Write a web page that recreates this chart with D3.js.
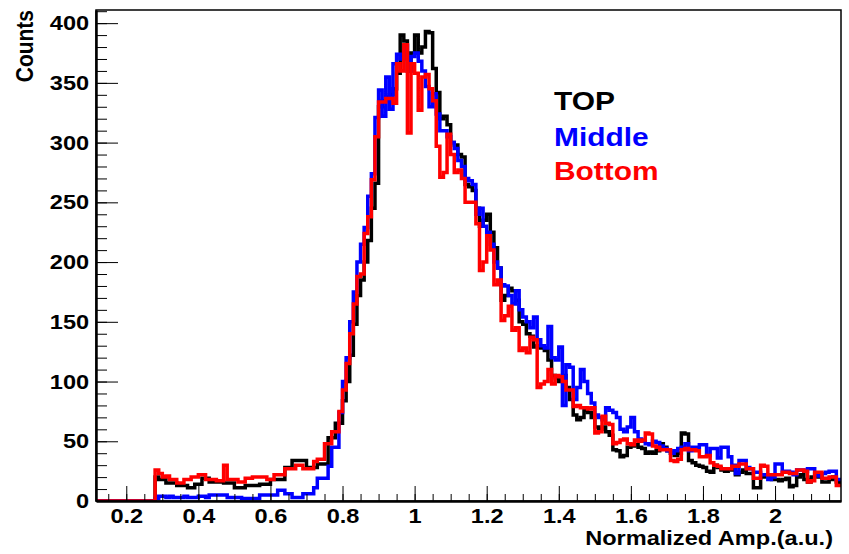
<!DOCTYPE html>
<html>
<head>
<meta charset="utf-8">
<script src="https://cdn.jsdelivr.net/npm/d3@7"></script>
<style>
  body { margin: 0; background: #fff; }
  text { font-family: "Liberation Sans", Arial, Helvetica, sans-serif; font-weight: bold; }
</style>
</head>
<body>
<div id="chart"></div>
<script>
// histogram bins: first bin starts at 0.10, width 0.01
var binStart = 0.10;
var binWidth = 0.01;

var topCounts = [
  0,0,0,0,0,0,0,0,0,0,
  0,0,0,0,0,0,0,0,20,18,
  18,15,15,15,13,13,13,11,11,14,
  14,19,19,16,16,16,16,15,15,15,
  11,11,11,13,13,13,13,14,14,14,
  18,18,18,18,28,28,34,34,34,34,
  28,28,28,31,31,31,53,53,65,65,
  84,100,122,148,172,185,200,218,245,266,
  330,335,338,340,345,358,390,385,360,375,
  390,375,380,393,392,362,342,320,322,315,
  300,298,290,288,265,263,260,245,230,235,
  240,225,212,195,168,172,178,176,168,150,
  148,140,138,129,130,128,126,118,105,103,
  100,105,95,85,72,68,70,76,74,70,
  62,60,62,58,55,43,42,37,38,45,
  46,47,45,44,40,41,40,42,48,45,
  42,40,38,40,57,56,34,32,30,29,
  28,25,24,30,28,26,25,27,26,22,
  24,26,23,23,11,11,20,22,20,18,
  18,17,18,19,12,13,20,22,18,16,
  20,23,20,16,16,18,20,16,14,14
];

var middleCounts = [
  0,0,0,0,0,0,0,0,0,0,
  0,0,0,0,0,0,0,0,2,4,
  4,3,4,3,3,3,4,3,3,3,
  4,4,3,5,5,5,5,5,3,3,
  3,3,2,2,2,2,2,5,5,5,
  5,5,9,9,6,6,3,3,3,6,
  6,6,11,19,19,19,29,45,45,74,
  100,120,150,175,200,215,229,255,274,321,
  344,322,355,328,366,374,370,381,360,372,
  375,368,360,347,330,341,324,310,310,305,
  300,295,285,280,270,268,265,240,245,230,
  225,215,200,195,181,180,172,165,176,160,
  154,150,145,154,135,130,128,146,120,118,
  129,80,114,112,85,95,110,100,90,82,
  72,70,68,78,76,74,70,60,58,62,
  70,58,52,50,48,47,50,49,46,44,
  42,40,42,44,45,48,42,45,45,47,
  47,38,44,44,36,45,45,37,30,23,
  34,34,28,27,24,24,22,22,18,20,
  31,31,25,25,24,22,26,26,25,27,
  27,22,21,23,24,25,25,18,18,18
];

var bottomCounts = [
  0,0,0,0,0,0,0,0,0,0,
  0,0,0,0,0,0,0,0,26,23,
  20,21,18,18,15,15,18,18,20,20,
  22,22,18,18,18,17,17,30,18,18,
  18,16,16,19,19,20,20,20,20,18,
  18,22,22,22,27,27,27,30,30,27,
  27,27,33,35,35,48,48,58,58,75,
  93,115,140,165,188,190,224,238,269,305,
  334,334,337,337,333,366,360,382,308,366,
  358,327,355,357,345,335,297,271,275,307,
  290,275,277,270,250,250,250,232,193,200,
  222,210,181,185,151,155,163,143,145,126,
  128,124,137,135,95,98,100,110,98,105,
  104,100,93,93,79,80,78,78,77,78,
  57,58,71,65,64,48,49,51,52,48,
  47,51,50,51,57,56,46,45,43,43,
  43,34,33,35,43,44,43,43,42,37,
  37,38,32,30,29,27,27,27,29,29,
  31,31,27,27,19,19,30,29,22,22,
  22,22,24,24,23,23,26,26,25,16,
  17,24,24,19,19,20,20,13,13,13
];

var seriesNames = ["TOP", "Middle", "Bottom"];
var seriesColors = ["#000000", "#0000ff", "#ff0000"];

var xTicks = [0.2, 0.4, 0.6, 0.8, 1.0, 1.2, 1.4, 1.6, 1.8, 2.0];
var xMinorTicks = d3.range(3, 44).map(function(i) { return i * 0.05; });
var yTicks = [0, 50, 100, 150, 200, 250, 300, 350, 400];
var yMinorTicks = d3.range(0, 42).map(function(i) { return i * 10; });

var svgWidth = 849;
var svgHeight = 554;
var margin = { top: 10, right: 8, bottom: 53, left: 96 };
var width = svgWidth - margin.left - margin.right;
var height = svgHeight - margin.top - margin.bottom;
var stretch = 1.15; // the picture text is a bit wide

var svg = d3.select("#chart")
  .append("svg")
  .attr("width", svgWidth)
  .attr("height", svgHeight);

var chartGroup = svg.append("g")
  .attr("transform", `translate(${margin.left}, ${margin.top})`);

var xScale = d3.scaleLinear().domain([0.116, 2.183]).range([0, width]);
var yScale = d3.scaleLinear().domain([0, 411]).range([height, 0]);

svg.append("clipPath").attr("id", "frameClip")
  .append("rect").attr("width", width).attr("height", height);

// step histograms, drawn black -> blue -> red
var stepLine = d3.line()
  .x(d => xScale(d[0]))
  .y(d => yScale(d[1]))
  .curve(d3.curveStepAfter);

function toSteps(counts) {
  var pts = counts.map((v, i) => [binStart + i * binWidth, v]);
  pts.push([binStart + counts.length * binWidth, counts[counts.length - 1]]);
  return pts;
}

var histGroup = chartGroup.append("g").attr("clip-path", "url(#frameClip)");
[topCounts, middleCounts, bottomCounts].forEach(function(counts, i) {
  histGroup.append("path")
    .attr("d", stepLine(toSteps(counts)))
    .attr("fill", "none")
    .attr("stroke", seriesColors[i])
    .attr("stroke-width", 3.5)
    .attr("stroke-linejoin", "miter");
});

// frame
chartGroup.append("rect")
  .attr("width", width)
  .attr("height", height)
  .attr("fill", "none")
  .attr("stroke", "#000")
  .attr("stroke-width", 1.5);

// minor ticks (inside the frame)
chartGroup.append("g")
  .attr("transform", `translate(0, ${height})`)
  .call(d3.axisBottom(xScale).tickValues(xMinorTicks).tickSizeInner(-7).tickSizeOuter(0).tickFormat(""))
  .call(g => g.select(".domain").remove());

chartGroup.append("g")
  .call(d3.axisLeft(yScale).tickValues(yMinorTicks).tickSizeInner(-11).tickSizeOuter(0).tickFormat(""))
  .call(g => g.select(".domain").remove());

// major axes
var bottomAxis = d3.axisBottom(xScale)
  .tickValues(xTicks)
  .tickSizeInner(-15)
  .tickSizeOuter(0)
  .tickPadding(7)
  .tickFormat(d3.format("~g"));

var leftAxis = d3.axisLeft(yScale)
  .tickValues(yTicks)
  .tickSizeInner(-22)
  .tickSizeOuter(0)
  .tickPadding(6);

var xAxisG = chartGroup.append("g")
  .attr("transform", `translate(0, ${height})`)
  .call(bottomAxis);

var yAxisG = chartGroup.append("g")
  .call(leftAxis);

[xAxisG, yAxisG].forEach(function(g) {
  g.select(".domain").attr("stroke-width", 2.5);
  g.selectAll(".tick text")
    .attr("font-size", 20.5)
    .attr("fill", "#000")
    .attr("transform", `scale(${stretch},1)`)
    .style("font-family", '"Liberation Sans", Arial, sans-serif');
});

// axis titles
svg.append("text")
  .attr("transform", `translate(833, 545) scale(${stretch},1)`)
  .attr("text-anchor", "end")
  .attr("font-size", 20.5)
  .text("Normalized Amp.(a.u.)");

svg.append("text")
  .attr("transform", `translate(33, 10) rotate(-90) scale(1,${stretch})`)
  .attr("text-anchor", "end")
  .attr("font-size", 21)
  .text("Counts");

// legend text
var legendY = [110, 146, 180];
seriesNames.forEach(function(name, i) {
  svg.append("text")
    .attr("transform", `translate(554, ${legendY[i]}) scale(${stretch},1)`)
    .attr("font-size", 26)
    .attr("fill", seriesColors[i])
    .text(name);
});
</script>
</body>
</html>
